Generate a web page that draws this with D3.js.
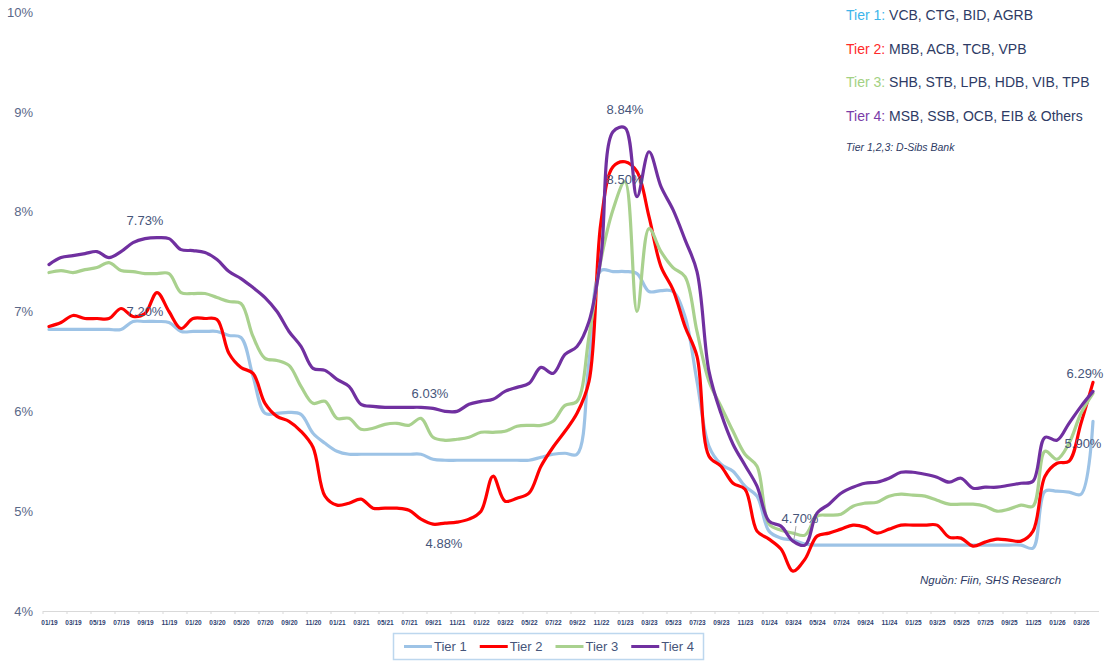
<!DOCTYPE html>
<html>
<head>
<meta charset="utf-8">
<script src="https://cdn.jsdelivr.net/npm/d3@7/dist/d3.min.js"></script>
<style>
  body { margin: 0; background: #fff; }
  svg { display: block; font-family: "Liberation Sans", Arial, sans-serif; }
</style>
</head>
<body>
<svg id="chart" width="1113" height="661"></svg>
<script>
'use strict';

// months, 01/19 .. 04/26
var months = [
  '01/19','02/19','03/19','04/19','05/19','06/19','07/19','08/19','09/19','10/19','11/19','12/19',
  '01/20','02/20','03/20','04/20','05/20','06/20','07/20','08/20','09/20','10/20','11/20','12/20',
  '01/21','02/21','03/21','04/21','05/21','06/21','07/21','08/21','09/21','10/21','11/21','12/21',
  '01/22','02/22','03/22','04/22','05/22','06/22','07/22','08/22','09/22','10/22','11/22','12/22',
  '01/23','02/23','03/23','04/23','05/23','06/23','07/23','08/23','09/23','10/23','11/23','12/23',
  '01/24','02/24','03/24','04/24','05/24','06/24','07/24','08/24','09/24','10/24','11/24','12/24',
  '01/25','02/25','03/25','04/25','05/25','06/25','07/25','08/25','09/25','10/25','11/25','12/25',
  '01/26','02/26','03/26','04/26'
];

// tick labels shown on the x axis (every second month)
var tickLabels = months.filter(function(m, i) { return i % 2 === 0; });

var yTicks = [4, 5, 6, 7, 8, 9, 10];

var tier1 = [
  6.82, 6.82, 6.82, 6.82, 6.82, 6.82, 6.82, 6.90, 6.90, 6.90, 6.89, 6.80,
  6.80, 6.80, 6.80, 6.76, 6.74, 6.35, 5.98, 5.98, 5.99, 5.97, 5.78, 5.68,
  5.60, 5.57, 5.57, 5.57, 5.57, 5.57, 5.57, 5.57, 5.52, 5.51, 5.51, 5.51,
  5.51, 5.51, 5.51, 5.51, 5.51, 5.54, 5.57, 5.58, 5.57, 6.50, 7.41, 7.40,
  7.40, 7.38, 7.20, 7.21, 7.20, 6.95, 6.30, 5.65, 5.47, 5.40, 5.25, 5.15,
  4.80, 4.73, 4.71, 4.67, 4.66, 4.66, 4.66, 4.66, 4.66, 4.66, 4.66, 4.66,
  4.66, 4.66, 4.66, 4.66, 4.66, 4.66, 4.66, 4.66, 4.66, 4.66, 4.63, 5.20,
  5.20, 5.19, 5.17, 5.90
];

var tier2 = [
  6.85, 6.89, 6.96, 6.93, 6.93, 6.93, 7.03, 6.95, 6.98, 7.19, 7.00, 6.83,
  6.93, 6.93, 6.92, 6.58, 6.44, 6.38, 6.08, 5.95, 5.90, 5.80, 5.64, 5.15,
  5.06, 5.08, 5.12, 5.03, 5.03, 5.03, 5.01, 4.92, 4.87, 4.88, 4.89, 4.92,
  5.00, 5.35, 5.10, 5.13, 5.18, 5.45, 5.64, 5.80, 5.98, 6.30, 7.90, 8.45,
  8.50, 8.40, 7.95, 7.45, 7.22, 6.85, 6.55, 5.55, 5.45, 5.28, 5.22, 4.80,
  4.72, 4.62, 4.40, 4.52, 4.75, 4.78, 4.82, 4.86, 4.84, 4.78, 4.82, 4.86,
  4.86, 4.86, 4.86, 4.74, 4.73, 4.65, 4.69, 4.72, 4.71, 4.70, 4.80, 5.35,
  5.48, 5.50, 5.88, 6.29
];

var tier3 = [
  7.39, 7.41, 7.39, 7.42, 7.44, 7.49, 7.41, 7.40, 7.38, 7.38, 7.38, 7.19,
  7.18, 7.18, 7.14, 7.10, 7.08, 6.75, 6.53, 6.51, 6.46, 6.25, 6.08, 6.10,
  5.93, 5.93, 5.82, 5.83, 5.87, 5.88, 5.86, 5.93, 5.74, 5.71, 5.72, 5.74,
  5.79, 5.79, 5.80, 5.85, 5.86, 5.86, 5.90, 6.06, 6.10, 6.75, 7.52, 8.02,
  8.30, 7.00, 7.83, 7.60, 7.44, 7.35, 6.80, 6.30, 6.05, 5.80, 5.57, 5.45,
  4.87, 4.81, 4.78, 4.76, 4.95, 4.96, 4.97, 5.05, 5.08, 5.09, 5.15, 5.17,
  5.16, 5.15, 5.11, 5.07, 5.07, 5.07, 5.05, 5.00, 5.02, 5.06, 5.05, 5.60,
  5.52, 5.68, 5.98, 6.18
];

var tier4 = [
  7.47, 7.54, 7.56, 7.58, 7.60, 7.54, 7.60, 7.69, 7.73, 7.74, 7.73, 7.62,
  7.61, 7.59, 7.52, 7.40, 7.33, 7.24, 7.14, 7.00, 6.80, 6.65, 6.43, 6.41,
  6.32, 6.25, 6.07, 6.05, 6.04, 6.04, 6.04, 6.04, 6.03, 6.00, 6.00, 6.07,
  6.10, 6.12, 6.20, 6.24, 6.28, 6.44, 6.38, 6.57, 6.65, 6.90, 7.55, 8.80,
  8.84, 8.15, 8.60, 8.25, 8.02, 7.72, 7.40, 6.40, 5.98, 5.67, 5.46, 5.25,
  4.90, 4.85, 4.70, 4.66, 4.98, 5.07, 5.18, 5.24, 5.28, 5.29, 5.33, 5.39,
  5.39, 5.37, 5.34, 5.29, 5.33, 5.23, 5.24, 5.24, 5.26, 5.28, 5.30, 5.74,
  5.71, 5.88, 6.05, 6.20
];

var seriesNames = ['Tier 1', 'Tier 2', 'Tier 3', 'Tier 4'];
var seriesColors = ['#9dc3e6', '#ff0000', '#a9d18e', '#7030a0'];
var seriesValues = [tier1, tier2, tier3, tier4];

// data labels: series index, month, text
var labelSeries = [3, 1, 3, 1, 3, 1, 3, 1, 0];
var labelMonths = ['09/19', '10/19', '09/21', '10/21', '01/23', '01/23', '03/24', '04/26', '04/26'];
var labelTexts = ['7.73%', '7.20%', '6.03%', '4.88%', '8.84%', '8.50%', '4.70%', '6.29%', '5.90%'];
var labelOffsets = [[0, -18], [-12, 19], [-3, -15], [-1, 20], [0, -18], [0, 18], [7, -23], [-8, -9], [-10, 22]];

// legend panel text, top right
var tierNotes = [
  ['Tier 1:', ' VCB, CTG, BID, AGRB', '#3db5ea'],
  ['Tier 2:', ' MBB, ACB, TCB, VPB', '#ff2a2a'],
  ['Tier 3:', ' SHB, STB, LPB, HDB, VIB, TPB', '#a3d183'],
  ['Tier 4:', ' MSB, SSB, OCB, EIB & Others', '#7a3ca8']
];

var svg = d3.select('#chart'),
    margin = { left: 43, right: 1099, top: 12, bottom: 611 },
    textColor = '#46557a',
    navy = '#2e3b65';

var x = d3.scaleLinear()
    .domain([-0.5, months.length - 0.5])
    .range([margin.left, margin.right]);

var y = d3.scaleLinear()
    .domain([4, 10])
    .range([margin.bottom, margin.top]);

// y axis labels, no line
var yAxis = svg.append('g')
    .attr('transform', 'translate(33,0)')
    .call(d3.axisLeft(y).tickValues(yTicks).tickSize(0).tickPadding(0)
        .tickFormat(function(d) { return d + '%'; }));
yAxis.select('.domain').remove();
yAxis.selectAll('text')
    .attr('fill', '#5a6888')
    .style('font-size', '13px')
    .style('font-family', '"Liberation Sans", Arial, sans-serif');

// x axis
var xAxis = svg.append('g')
    .attr('transform', 'translate(0,' + margin.bottom + ')')
    .call(d3.axisBottom(x)
        .tickValues(tickLabels.map(function(m) { return months.indexOf(m); }))
        .tickSize(0).tickPadding(9)
        .tickFormat(function(i) { return months[i]; }));
xAxis.select('.domain').attr('stroke', '#d9d9d9').attr('stroke-width', 1)
    .attr('d', 'M' + margin.left + ',0.5H' + margin.right);
xAxis.selectAll('text')
    .attr('fill', '#2f3f72')
    .style('font-size', '6.5px')
    .style('font-weight', 'bold')
    .style('font-family', '"Liberation Sans", Arial, sans-serif');

// small tick marks between category pairs
svg.append('g')
    .selectAll('line')
    .data(tickLabels)
    .enter()
    .append('line')
    .attr('x1', function(m) { return x(months.indexOf(m) - 0.5); })
    .attr('x2', function(m) { return x(months.indexOf(m) - 0.5); })
    .attr('y1', margin.bottom)
    .attr('y2', margin.bottom + 3)
    .attr('stroke', '#d9d9d9');

// lines
var line = d3.line()
    .x(function(d, i) { return x(i); })
    .y(function(d) { return y(d); })
    .curve(d3.curveCatmullRom.alpha(0.5));

svg.append('g')
    .selectAll('path')
    .data(seriesValues)
    .enter()
    .append('path')
    .attr('d', line)
    .attr('fill', 'none')
    .attr('stroke', function(d, i) { return seriesColors[i]; })
    .attr('stroke-width', 3.2)
    .attr('stroke-linejoin', 'round')
    .attr('stroke-linecap', 'round');

// data labels
labelTexts.forEach(function(t, k) {
  var idx = months.indexOf(labelMonths[k]),
      v = seriesValues[labelSeries[k]][idx],
      px = x(idx) + labelOffsets[k][0],
      py = y(v) + labelOffsets[k][1];
  svg.append('text')
      .attr('x', px)
      .attr('y', py)
      .attr('text-anchor', 'middle')
      .attr('dominant-baseline', 'central')
      .attr('fill', textColor)
      .style('font-size', '13px')
      .text(t);
  if (t === '4.70%') {
    svg.append('line')
        .attr('x1', px - 4).attr('y1', py + 8)
        .attr('x2', x(idx) + 1).attr('y2', y(v) - 2)
        .attr('stroke', '#a6a6a6').attr('stroke-width', 1);
  }
});

// tier notes, top right
var notes = svg.append('g');
tierNotes.forEach(function(n, k) {
  var t = notes.append('text')
      .attr('x', 846)
      .attr('y', 20 + k * 33.5)
      .style('font-size', '14px');
  t.append('tspan').attr('fill', n[2]).text(n[0]);
  t.append('tspan').attr('fill', navy).text(n[1]);
});
notes.append('text')
    .attr('x', 846)
    .attr('y', 151)
    .attr('fill', navy)
    .style('font-size', '10.5px')
    .style('font-style', 'italic')
    .text('Tier 1,2,3: D-Sibs Bank');

// source
svg.append('text')
    .attr('x', 920)
    .attr('y', 584)
    .attr('fill', navy)
    .style('font-size', '11.5px')
    .style('font-style', 'italic')
    .text('Nguồn: Fiin, SHS Research');

// legend box
var legend = svg.append('g');
legend.append('rect')
    .attr('x', 393.5).attr('y', 633.5)
    .attr('width', 310).attr('height', 26)
    .attr('fill', '#fff')
    .attr('stroke', '#bdd7ee')
    .attr('stroke-width', 1.5);

var lx = 404;
seriesNames.forEach(function(name, i) {
  legend.append('line')
      .attr('x1', lx).attr('x2', lx + 28)
      .attr('y1', 646.5).attr('y2', 646.5)
      .attr('stroke', seriesColors[i])
      .attr('stroke-width', 3);
  var t = legend.append('text')
      .attr('x', lx + 30)
      .attr('y', 651)
      .attr('fill', textColor)
      .style('font-size', '13px')
      .text(name);
  lx += 30 + t.node().getComputedTextLength() + 13;
});
</script>
</body>
</html>
